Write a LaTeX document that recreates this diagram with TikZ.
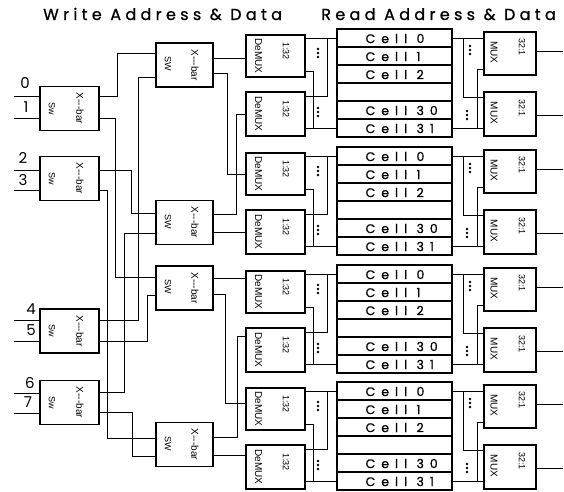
\documentclass[tikz,border=0pt]{standalone}
\usepackage{fontspec}
\setmainfont{Poppins}
\newfontfamily\labfont{Liberation Sans}
\newfontfamily\ttlfont[LetterSpace=27,FakeBold=1]{Poppins}
\newfontfamily\cellfont[LetterSpace=48,FakeBold=0.8]{Poppins}
\usetikzlibrary{calc}
\begin{document}
\begin{tikzpicture}[x=1pt,y=-1pt,
  box/.style={draw, line width=1.6pt, inner sep=0pt},
  wire/.style={line width=1pt},
  rl/.style={rotate=-90, inner sep=0pt, font=\labfont\fontsize{9}{9}\selectfont},
  rlb/.style={rotate=-90, inner sep=0pt, font=\labfont\fontsize{10}{10}\selectfont},
  cellrow/.style={draw, line width=1.1pt, minimum width=115pt, minimum height=18pt, inner sep=0pt},
  celltxt/.style={inner sep=0pt, anchor=west, font=\cellfont\fontsize{12.5}{12.5}\selectfont},
  digit/.style={inner sep=0pt, font=\fontsize{15}{15}\selectfont},
  ttl/.style={inner sep=0pt, font=\ttlfont\fontsize{16}{16}\selectfont},
  dotc/.style={fill=black}
]
\useasboundingbox (0,0) rectangle (564,491);

% titles
\node[ttl, anchor=base west] (t1) at (43,20) {Write Address \& Data};
\node[ttl, anchor=base east] (t2) at (556,20) {Read Address \& Data};

% stage 1 switches
\foreach \n/\cy in {s1a/108.5,s1b/178.5,s1c/331,s1d/402.5}{
  \node[box, minimum width=59pt, minimum height=44pt] (\n) at (69.5,\cy) {};
  \node[rlb] (\n-x) at ($(\n.center)+(10.5,0)$) {X---bar};
  \node[rl] (\n-s) at ($(\n.center)+(-17.5,0)$) {Sw};
}
% stage 2 switches
\foreach \n/\cy in {s2a/65,s2b/222.5,s2c/288,s2d/444.5}{
  \node[box, minimum width=57pt, minimum height=44pt] (\n) at (184.5,\cy) {};
  \node[rlb] (\n-x) at ($(\n.center)+(10.5,0)$) {X---bar};
  \node[rl] (\n-s) at ($(\n.center)+(-16.5,-1)$) {SW};
}

% inputs
\foreach \i/\y/\lx/\ly in {0/96/25/83,1/118/26/107,2/170/23/158,3/190/23/180,4/320/31/309,5/341/31/330,6/393/30/383,7/413/28/402}{
  \coordinate (in\i) at (14,\y);
  \node[digit] (lab\i) at (\lx,\ly) {\i};
}
\draw[wire] (in0) -- (s1a.west |- in0);
\draw[wire] (in1) -- (s1a.west |- in1);
\draw[wire] (in2) -- (s1b.west |- in2);
\draw[wire] (in3) -- (s1b.west |- in3);
\draw[wire] (in4) -- (s1c.west |- in4);
\draw[wire] (in5) -- (s1c.west |- in5);
\draw[wire] (in6) -- (s1d.west |- in6);
\draw[wire] (in7) -- (s1d.west |- in7);

% stage 1 ports
\coordinate (s1a-o1) at (99,96);  \coordinate (s1a-o2) at (99,118);
\coordinate (s1b-o1) at (99,170); \coordinate (s1b-o2) at (99,190);
\coordinate (s1c-o1) at (99,320); \coordinate (s1c-o2) at (99,341);
\coordinate (s1d-o1) at (99,392); \coordinate (s1d-o2) at (99,412);
% stage 2 ports
\coordinate (s2a-i1) at (156,53);  \coordinate (s2a-i2) at (156,77);
\coordinate (s2b-i1) at (156,213); \coordinate (s2b-i2) at (156,233);
\coordinate (s2c-i1) at (156,277); \coordinate (s2c-i2) at (156,295);
\coordinate (s2d-i1) at (156,438); \coordinate (s2d-i2) at (156,456);
\coordinate (s2a-o1) at (213,58);  \coordinate (s2a-o2) at (213,73);
\coordinate (s2b-o1) at (213,214); \coordinate (s2b-o2) at (213,232);
\coordinate (s2c-o1) at (213,278); \coordinate (s2c-o2) at (213,294);
\coordinate (s2d-o1) at (213,437); \coordinate (s2d-o2) at (213,455);

\draw[wire] (s1a-o1) -- ++(18,0) |- (s2a-i1);
\draw[wire] (s1a-o2) -- ++(16,0) |- (s2c-i1);
\draw[wire] (s1b-o1) -- ++(32,0) |- (s2b-i1);
\draw[wire] (s1b-o2) -- ++(8,0) |- (s2d-i1);
\draw[wire] (s1c-o1) -- ++(39,0) |- (s2a-i2);
\draw[wire] (s1c-o2) -- ++(48,0) |- (s2c-i2);
\draw[wire] (s1d-o1) -- ++(25,0) |- (s2b-i2);
\draw[wire] (s1d-o2) -- ++(33,0) |- (s2d-i2);

% banks, demuxes, muxes
\foreach \k/\T in {1/29,2/147,3/265,4/382}{
  \foreach \r/\txt in {0/Cell 0,1/Cell 1,2/Cell 2,3/,4/Cell 30,5/Cell 31}{
    \node[cellrow] (c\k-\r) at (394.5,\T+9+18*\r) {};
    \node[celltxt] (c\k-\r-t) at ($(c\k-\r.west)+(29,0.5)$) {\txt};
  }
  \node[box, minimum width=115pt, minimum height=108pt] (bank\k) at (394.5,\T+54) {};
  \node[box, minimum width=59pt, minimum height=42pt] (da\k) at (275.5,\T+27) {};
  \node[box, minimum width=59pt, minimum height=44pt] (db\k) at (275.5,\T+85) {};
  \node[rlb] (da\k-l) at ($(da\k.center)+(-17,0)$) {DeMUX};
  \node[rl] (da\k-r) at ($(da\k.north)+(10.5,17)$) {1:32};
  \node[rlb] (db\k-l) at ($(db\k.center)+(-17,0)$) {DeMUX};
  \node[rl] (db\k-r) at ($(db\k.north)+(10.5,18)$) {1:32};
  \node[box, minimum width=52pt, minimum height=43pt] (ma\k) at (510,\T+24.5) {};
  \node[box, minimum width=52pt, minimum height=44pt] (mb\k) at (510,\T+85) {};
  \node[rlb] (ma\k-l) at ($(ma\k.center)+(-16,-1)$) {MUX};
  \node[rl] (ma\k-r) at ($(ma\k.north)+(12,16)$) {32:1};
  \node[rlb] (mb\k-l) at ($(mb\k.center)+(-16,-1)$) {MUX};
  \node[rl] (mb\k-r) at ($(mb\k.north)+(12,17)$) {32:1};
  % demux -> cells
  \draw[wire] (da\k.east |- c\k-0.west) -- (c\k-0.west);
  \draw[wire] ($(da\k.north east)+(0,37)$) -- ++(8,0) |- (c\k-5.west);
  \draw[wire] ($(db\k.north east)+(0,5)$) -- ++(22,0) |- (c\k-0.west);
  \draw[wire] (db\k.east |- c\k-5.west) -- (c\k-5.west);
  % cells -> mux
  \draw[wire] (c\k-0.east) -- (ma\k.west |- c\k-0.east);
  \draw[wire] ($(c\k-0.east)+(11,0)$) |- ($(mb\k.north west)+(0,6)$);
  \draw[wire] (c\k-5.east) -- (mb\k.west |- c\k-5.east);
  \draw[wire] ($(c\k-5.east)+(25,0)$) |- ($(ma\k.north west)+(0,38)$);
  % outputs
  \draw[wire] ($(ma\k.north east)+(0,20)$) -- ++(26,0);
  \draw[wire] ($(mb\k.north east)+(0,24)$) -- ++(26,0);
  % dots
  \foreach \dy in {-4,0,4}{
    \fill[dotc] (318,\T+24+\dy) circle[radius=1.3pt];
    \fill[dotc] (318,\T+83+\dy) circle[radius=1.3pt];
    \fill[dotc] (470,\T+21+\dy) circle[radius=1.3pt];
    \fill[dotc] (467,\T+86+\dy) circle[radius=1.3pt];
  }
}

% stage 2 -> demux
\draw[wire] (s2a-o1) -- (da1.west |- s2a-o1);
\draw[wire] (s2a-o2) -- ++(14,0) |- (da2.west);
\draw[wire] (s2b-o1) -- ++(23,0) |- (db1.west);
\draw[wire] (s2b-o2) -- (db2.west |- s2b-o2);
\draw[wire] (s2c-o1) -- (da3.west |- s2c-o1);
\draw[wire] (s2c-o2) -- ++(12,0) |- ($(da4.west)+(0,-6)$);
\draw[wire] (s2d-o1) -- ++(24,0) |- ($(db3.north west)+(0,9)$);
\draw[wire] (s2d-o2) -- (db4.west |- s2d-o2);
\end{tikzpicture}
\end{document}
